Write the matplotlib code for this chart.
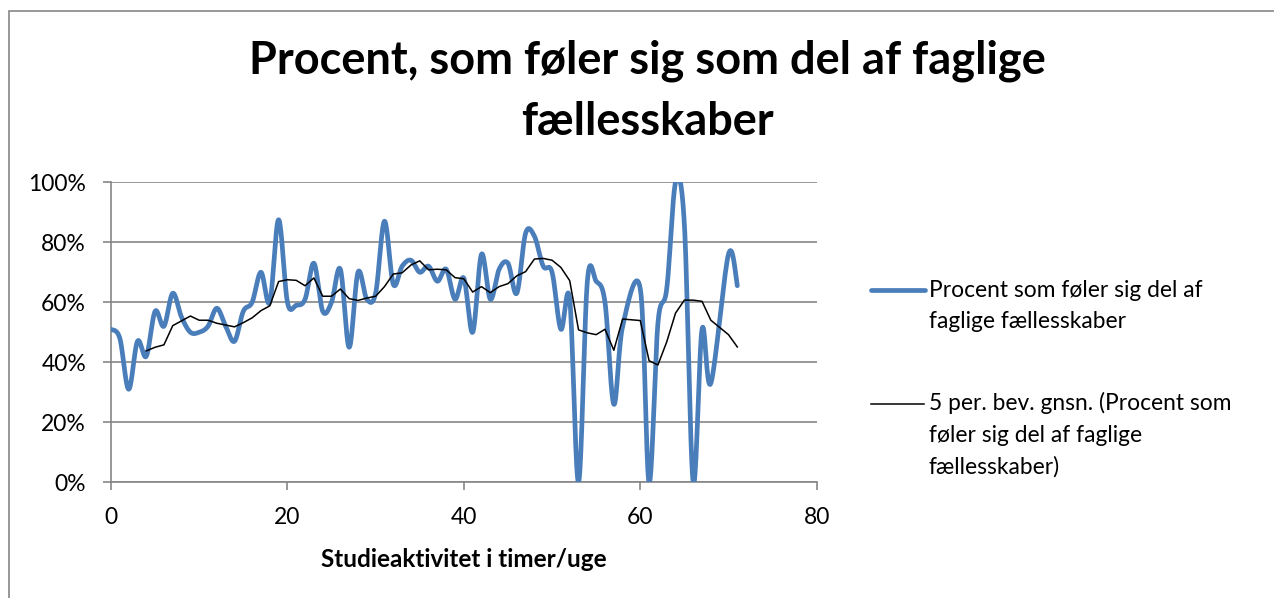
import numpy as np
import pandas as pd
import matplotlib
matplotlib.use("Agg")
import matplotlib.pyplot as plt
from matplotlib.lines import Line2D
from matplotlib.patches import Rectangle

plt.rcParams['font.family'] = ['Lato', 'DejaVu Sans']

# study hours per week (no data at 59 and 69)
hours = list(range(0, 59)) + list(range(60, 69)) + [70, 71]
share = [0.51, 0.48, 0.31, 0.47, 0.42, 0.57, 0.52, 0.63, 0.55, 0.50,
         0.50, 0.52, 0.58, 0.52, 0.47, 0.57, 0.60, 0.70, 0.60, 0.875,
         0.60, 0.59, 0.61, 0.73, 0.57, 0.60, 0.71, 0.45, 0.70, 0.61,
         0.63, 0.87, 0.66, 0.72, 0.74, 0.70, 0.72, 0.67, 0.71, 0.61,
         0.68, 0.50, 0.76, 0.61, 0.71, 0.73, 0.63, 0.83, 0.82, 0.72,
         0.70, 0.51, 0.61, 0.0, 0.67, 0.67, 0.60, 0.26, 0.52,
         0.645, 0.0, 0.53, 0.645, 1.0, 0.86, 0.0, 0.51, 0.33,
         0.76, 0.655]

title = "Procent, som føler sig som del af faglige\nfællesskaber"
xlabel = "Studieaktivitet i timer/uge"
label_main = "Procent som føler sig del af\nfaglige fællesskaber"
label_ma = "5 per. bev. gnsn. (Procent som\nføler sig del af faglige\nfællesskaber)"

BLUE = "#4A7EBB"
GRAY = "#868686"


def smooth(x, y, n=20):
    # catmull-rom through the points, like excel's smoothed line
    p = np.column_stack([x, y]).astype(float)
    p = np.vstack([p[0], p, p[-1]])
    out = []
    for i in range(1, len(p) - 2):
        p0, p1, p2, p3 = p[i - 1], p[i], p[i + 1], p[i + 2]
        c1 = p1 + (p2 - p0) / 6
        c2 = p2 - (p3 - p1) / 6
        t = np.linspace(0, 1, n)[:, None]
        seg = ((1 - t) ** 3) * p1 + 3 * ((1 - t) ** 2) * t * c1 + 3 * (1 - t) * t ** 2 * c2 + t ** 3 * p2
        out.append(seg if i == 1 else seg[1:])
    out = np.vstack(out)
    return out[:, 0], out[:, 1]


df = pd.DataFrame({"hours": hours, "share": share})
df["ma"] = df["share"].rolling(5).mean()

W, H = 1274, 598
fig = plt.figure(figsize=(W / 100, H / 100), dpi=100)

# chart frame
fig.patches.append(Rectangle((9 / W, -0.1), 1.2, 1 - 11 / H + 0.1, transform=fig.transFigure,
                             fill=False, edgecolor=GRAY, linewidth=1.2))

ax = fig.add_axes([111 / W, (H - 482.3) / H, (816.7 - 111) / W, (482.3 - 182.2) / H])

sx, sy = smooth(df["hours"], df["share"])
ax.plot(sx, sy, color=BLUE, linewidth=3.4, solid_capstyle="round", zorder=3)
ax.plot(df["hours"], df["ma"], color="black", linewidth=1.1, zorder=4)

ax.set_xlim(0, 80)
ax.set_ylim(0, 1)
ax.set_xticks([0, 20, 40, 60, 80])
ax.set_yticks(np.arange(0, 1.01, 0.2))
ax.set_yticklabels([f"{int(round(v * 100))}%" for v in np.arange(0, 1.01, 0.2)])
ax.yaxis.grid(True, color=GRAY, linewidth=1.2)
ax.set_axisbelow(True)
for s in ["top", "right"]:
    ax.spines[s].set_visible(False)
for s in ["left", "bottom"]:
    ax.spines[s].set_color(GRAY)
    ax.spines[s].set_linewidth(1.2)
ax.tick_params(axis="both", colors=GRAY, labelcolor="black", labelsize=16.5, width=1.2)
ax.tick_params(axis="y", length=6, pad=12)
ax.tick_params(axis="x", length=6, pad=12)
ax.set_xlabel(xlabel, fontsize=17.5, fontweight="bold", labelpad=14)

fig.text(647 / W, 1 - 91 / H, title, ha="center", va="center", fontsize=32.5,
         fontweight="bold", linespacing=1.55)

# legend
fig.add_artist(Line2D([871 / W, 925 / W], [1 - 290 / H] * 2, transform=fig.transFigure,
                      color=BLUE, linewidth=3.4, solid_capstyle="round"))
fig.text(929 / W, 1 - 306 / H, label_main, ha="left", va="center", fontsize=16.4, linespacing=1.6)
fig.add_artist(Line2D([871 / W, 924 / W], [1 - 404 / H] * 2, transform=fig.transFigure,
                      color="black", linewidth=1.1))
fig.text(929 / W, 1 - 435 / H, label_ma, ha="left", va="center", fontsize=16.4, linespacing=1.6)

fig.savefig("out.png", dpi=100)
